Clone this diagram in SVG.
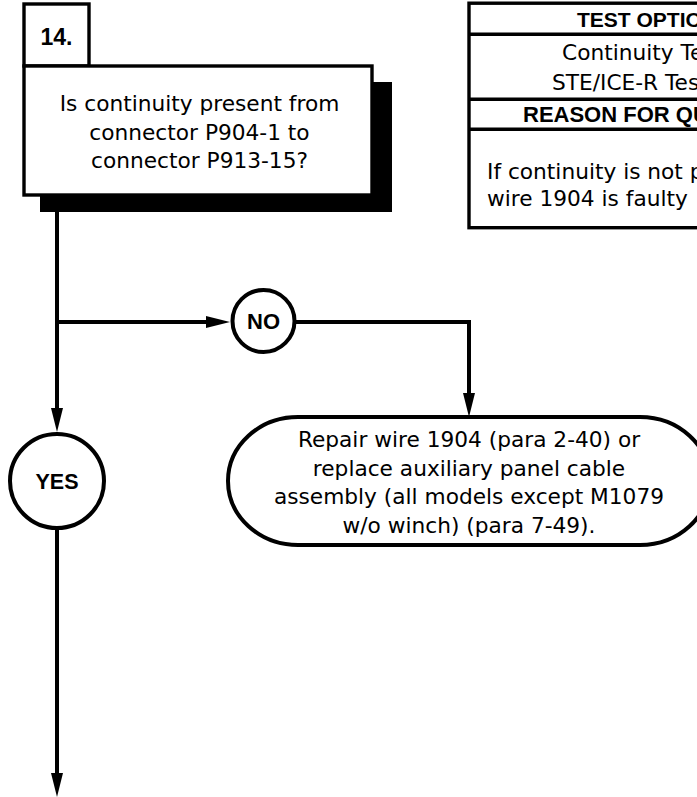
<svg xmlns="http://www.w3.org/2000/svg" width="697" height="797" viewBox="0 0 697 797">
<style>
.reg{font-family:"DejaVu Sans",Verdana,sans-serif;font-size:21.7px;fill:#000}
.bold{font-family:"Liberation Sans",Arial,sans-serif;font-weight:bold;font-size:21px;fill:#000}
.mid{text-anchor:middle}
.box{fill:#fff;stroke:#000;stroke-width:3.4}
.conn{fill:none;stroke:#000;stroke-width:4}
.circ{fill:#fff;stroke:#000;stroke-width:4}
.tline{stroke:#000;stroke-width:3.4}
</style>
<defs>
<marker id="arr" viewBox="0 0 24 12" refX="12" refY="6" markerWidth="24" markerHeight="12" markerUnits="userSpaceOnUse" orient="auto">
<path d="M0,0 L24,6 L0,12 z" fill="#000"/>
</marker>
<clipPath id="page"><rect x="0" y="0" width="697" height="797"/></clipPath>
</defs>

<g id="connectors">
<path class="conn" d="M57,195 V420" marker-end="url(#arr)"/>
<path class="conn" d="M57,322 H218" marker-end="url(#arr)"/>
<path class="conn" d="M296,322 H469 V405" marker-end="url(#arr)"/>
<path class="conn" d="M57,530 V785" marker-end="url(#arr)"/>
</g>

<g id="step14">
<rect x="40" y="82" width="352" height="130" fill="#000"/>
<rect class="box" x="24" y="4" width="65" height="62"/>
<text class="bold" x="56.5" y="45" text-anchor="middle" style="font-size:23px">14.</text>
<rect class="box" x="24" y="66" width="348" height="129"/>
<text class="reg mid" x="199.5" y="111">Is continuity present from</text>
<text class="reg mid" x="199.5" y="140">connector P904-1 to</text>
<text class="reg mid" x="199.5" y="168">connector P913-15?</text>
</g>

<g id="table" clip-path="url(#page)">
<rect x="469" y="3.2" width="300" height="224.5" fill="#fff" stroke="#000" stroke-width="3.4"/>
<line class="tline" x1="469" y1="34.3" x2="769" y2="34.3"/>
<line class="tline" x1="469" y1="99.3" x2="769" y2="99.3"/>
<line class="tline" x1="469" y1="129.3" x2="769" y2="129.3"/>
<text class="bold" x="577" y="27">TEST OPTIONS</text>
<text class="reg" x="562" y="60">Continuity Test</text>
<text class="reg" x="552" y="90">STE/ICE-R Test</text>
<text class="bold" x="523" y="122" style="font-size:22px">REASON FOR QUESTION</text>
<text class="reg" x="487" y="179">If continuity is not present,</text>
<text class="reg" x="487" y="206">wire 1904 is faulty</text>
</g>

<g id="no">
<circle class="circ" cx="263.5" cy="321" r="31"/>
<text class="bold mid" x="263.5" y="329" style="font-size:22px">NO</text>
</g>

<g id="yes">
<circle class="circ" cx="57" cy="481" r="47"/>
<text class="bold mid" x="57" y="489" style="font-size:21.5px">YES</text>
</g>

<g id="repair">
<rect x="228" y="417" width="482" height="128" rx="70" ry="64" fill="#fff" stroke="#000" stroke-width="4"/>
<text class="reg mid" x="469" y="447">Repair wire 1904 (para 2-40) or</text>
<text class="reg mid" x="469" y="475.7">replace auxiliary panel cable</text>
<text class="reg mid" x="469" y="504.3">assembly (all models except M1079</text>
<text class="reg mid" x="469" y="533">w/o winch) (para 7-49).</text>
</g>
</svg>
